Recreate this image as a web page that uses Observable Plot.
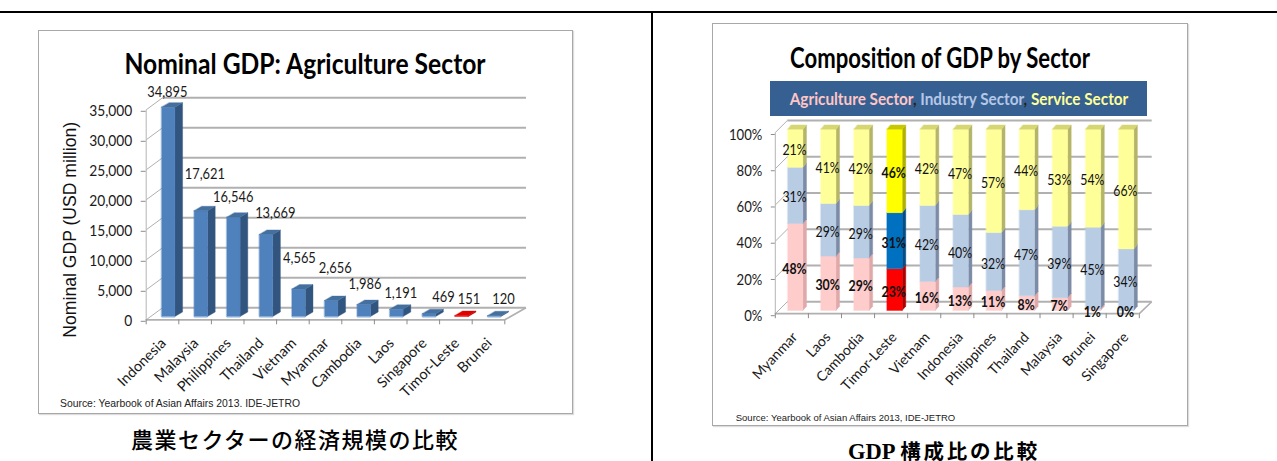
<!DOCTYPE html>
<html lang="ja">
<head>
<meta charset="utf-8">
<script src="https://cdn.jsdelivr.net/npm/d3@7"></script>
<script src="https://cdn.jsdelivr.net/npm/@observablehq/plot@0.6"></script>
<style>
  html, body { margin: 0; padding: 0; background: #fff; }
  #page { position: relative; width: 1277px; height: 461px; overflow: hidden; }
  #page > * { position: absolute; }
  #page svg { overflow: visible; }
  .rule { background: #000; }
  .frame { box-sizing: border-box; border: 1.5px solid #a8a8a8; box-shadow: 1px 1px 1px #ddd; background: #fff; }
  .chart-title, .banner, .source, .caption { white-space: nowrap; transform: translateX(-50%); }
  .chart-title { font: 700 29px Lato, sans-serif; color: #000; }
  .banner-box { background: #376092; }
  .banner { font: 700 17px Lato, sans-serif; color: #222; transform: translateX(-50%) scaleX(.9); }
  .source { font-family: "Liberation Sans", sans-serif; color: #222; }
  .caption { color: #000; line-height: 1; }
</style>
</head>
<body>
<div id="page"></div>
<script>
// Nominal GDP of the agriculture sector, USD million
const gdpCountries = ["Indonesia", "Malaysia", "Philippines", "Thailand", "Vietnam", "Myanmar", "Cambodia", "Laos", "Singapore", "Timor-Leste", "Brunei"];
const gdpValues = [34895, 17621, 16546, 13669, 4565, 2656, 1986, 1191, 469, 151, 120];
const gdpTicks = [0, 5000, 10000, 15000, 20000, 25000, 30000, 35000];
// Callout placement relative to the top of each bar: columns sideways, USD million upwards
const gdpLabelShift = [0.15, 0.3, 0.17, 0.46, 0.2, 0.3, 0.21, 0.31, 0.62, 0.4, 0.46];
const gdpLabelLift = [3000, 6600, 3850, 4050, 5650, 5900, 3900, 3200, 3250, 3250, 3250];

// Share of GDP by sector, percent
const shareCountries = ["Myanmar", "Laos", "Cambodia", "Timor-Leste", "Vietnam", "Indonesia", "Philippines", "Thailand", "Malaysia", "Brunei", "Singapore"];
const agriculture = [48, 30, 29, 23, 16, 13, 11, 8, 7, 1, 0];
const industry = [31, 29, 29, 31, 42, 40, 32, 47, 39, 45, 34];
const service = [21, 41, 42, 46, 42, 47, 57, 44, 53, 54, 66];
const shareTicks = [0, 20, 40, 60, 80, 100];

// Numbers are set in a horizontally condensed cut of Lato.
const condensed = `Lato, "Noto Sans", sans-serif`;
const labelFont = "Lato, sans-serif";
const page = document.getElementById("page");

function addBox(cls, left, top, width, height) {
  const el = document.createElement("div");
  el.className = cls;
  Object.assign(el.style, {left: left + "px", top: top + "px", width: width + "px", height: height + "px"});
  page.append(el);
  return el;
}
function addText(cls, centre, top, html, extra = {}) {
  const el = document.createElement("div");
  el.className = cls;
  el.innerHTML = html;
  Object.assign(el.style, {left: centre + "px", top: top + "px"}, extra);
  page.append(el);
  return el;
}
// Narrows the glyphs of every text drawn in the condensed family; needs the SVG to be in the document.
function condense(svg, factor) {
  svg.querySelectorAll("text").forEach((t) => {
    const owner = t.closest("[font-family]");
    if (!owner || !owner.getAttribute("font-family").includes("Noto Sans")) return;
    t.setAttribute("textLength", t.getComputedTextLength() * factor);
    t.setAttribute("lengthAdjust", "spacingAndGlyphs");
  });
}

// A box in oblique projection: front, right side and top faces as closed outlines.
function boxFaces(id, left, width, y1, y2, depthX, depthY, colors, withTop) {
  const r = left + width;
  const faces = [
    {face: id + "s", fill: colors.side, pts: [[r, y1], [r + depthX, y1 + depthY], [r + depthX, y2 + depthY], [r, y2]]},
    {face: id + "f", fill: colors.front, pts: [[left, y1], [r, y1], [r, y2], [left, y2]]}
  ];
  if (withTop) faces.push({face: id + "t", fill: colors.top, pts: [[left, y2], [r, y2], [r + depthX, y2 + depthY], [left + depthX, y2 + depthY]]});
  return faces.flatMap(({face, fill, pts}) => pts.map(([x, y]) => ({face, fill, x, y})));
}
const faceMark = (rows) => Plot.line(rows, {x: "x", y: "y", z: "face", fill: "fill", stroke: "fill", strokeWidth: 0.4, curve: "linear-closed"});

// The open chart box behind the bars: back-wall grid, floor edges and side-wall diagonals.
function wallMarks(n, ticks, backX, backEnd, backY, gridColor) {
  return [
    Plot.link(ticks, {x1: backX, x2: backEnd, y1: (d) => d + backY, y2: (d) => d + backY, stroke: gridColor, strokeWidth: 2}),
    Plot.link(ticks, {x1: 0, x2: backX, y1: (d) => d, y2: (d) => d + backY, stroke: gridColor, strokeWidth: 1}),
    Plot.link([0], {x1: n, x2: backEnd, y1: 0, y2: backY, stroke: gridColor, strokeWidth: 1.6}),
    Plot.ruleY([0], {stroke: gridColor, strokeWidth: 1.8}),
    Plot.link([0], {x1: 0, x2: 0, y1: 0, y2: ticks[ticks.length - 1], stroke: "#b5b5b5", strokeWidth: 1})
  ];
}

// Page rules
addBox("rule", 0, 11, 1277, 2);
addBox("rule", 650.5, 11, 2, 450);

// ---------- Nominal GDP: Agriculture Sector ----------
addBox("frame", 37.5, 30, 535.5, 383.5);
addText("chart-title", 305, 45, "Nominal GDP: Agriculture Sector", {transform: "translateX(-50%) scaleX(.85)"});
{
  const blue = {front: "#4f81bd", side: "#31557f", top: "#44709f"};
  const red = {front: "#ff0000", side: "#b00000", top: "#e00000"};
  const rows = gdpCountries.flatMap((c, i) =>
    boxFaces(c, i + 0.47, 0.41, 550, gdpValues[i] + 550, 0.236, 750, c === "Timor-Leste" ? red : blue, true));
  const plot = Plot.plot({
    width: 640, height: 461,
    marginLeft: 145.7, marginRight: 135.7, marginTop: 109.3, marginBottom: 141.7,
    style: {background: "transparent", overflow: "visible"},
    x: {domain: [0, 11]},
    y: {domain: [0, 35000]},
    marks: [
      ...wallMarks(11, gdpTicks, 0.5, 11.65, 2000, "#b0b0b0"),
      Plot.axisY(gdpTicks, {tickFormat: d3.format(","), tickSize: 5, tickPadding: 9, label: null, stroke: "#8c8c8c", fill: "#1a1a1a", fontFamily: condensed, fontSize: 16, dy: 1.5}),
      Plot.axisX(d3.range(0, 12), {tickFormat: () => "", tickSize: 5, label: null, stroke: "#8c8c8c"}),
      Plot.axisX(d3.range(0, 11).map((i) => i + 0.53), {
        tickFormat: (d) => gdpCountries[Math.floor(d)], tickSize: 0, tickPadding: 21, tickRotate: -45, label: null,
        fontFamily: labelFont, fontSize: 14.5, fill: "#1a1a1a"
      }),
      faceMark(rows),
      Plot.link(gdpCountries.filter((c) => c !== "Timor-Leste"), {
        x1: (c) => gdpCountries.indexOf(c) + 0.47, x2: (c) => gdpCountries.indexOf(c) + 0.88, y1: 480, y2: 480,
        stroke: "#8db2dd", strokeWidth: 1.2
      }),
      Plot.text(gdpValues, {
        x: (d, i) => i + 0.5 + gdpLabelShift[i], y: (d, i) => d + gdpLabelLift[i],
        text: d3.format(","), fontFamily: condensed, fontSize: 15, fill: "#1a1a1a"
      }),
      Plot.text(["Nominal GDP (USD million)"], {frameAnchor: "left", textAnchor: "middle", dx: -76, dy: 15, rotate: -90, fontFamily: "Liberation Sans, sans-serif", fontSize: 17.6, fill: "#111"})
    ]
  });
  plot.style.left = "0px";
  plot.style.top = "0px";
  page.append(plot);
  condense(plot, 0.86);
}
addText("source", 180, 397.5, "Source: Yearbook of Asian Affairs 2013. IDE-JETRO", {fontSize: "10.4px"});
addText("caption", 295, 427, "農業セクターの経済規模の比較", {font: `500 22px "Noto Sans CJK JP", sans-serif`, letterSpacing: "1.5px", lineHeight: "1"});

// ---------- Composition of GDP by Sector ----------
addBox("frame", 712, 22.5, 476, 403);
addText("chart-title", 940, 39, "Composition of GDP by Sector", {transform: "translateX(-50%) scaleX(.762)"});
addBox("banner-box", 770, 81, 377, 35);
addText("banner", 958.5, 87.5,
  `<span style="color:#ffc6c6">Agriculture Sector</span>, <span style="color:#b4c7e7">Industry Sector</span>, <span style="color:#ffff99">Service Sector</span>`);
{
  const palette = {
    agriculture: {front: "#ffcccc", side: "#e0a9a9", top: "#f0bcbc"},
    industry: {front: "#b8cce4", side: "#7d8ca6", top: "#9fb2cc"},
    service: {front: "#ffff99", side: "#b5b56a", top: "#d6d672"}
  };
  const strong = {
    agriculture: {front: "#ff0000", side: "#b00000", top: "#d00000"},
    industry: {front: "#0070c0", side: "#004f88", top: "#005c9e"},
    service: {front: "#ffff00", side: "#b0b000", top: "#c8c800"}
  };
  const sectors = [["agriculture", agriculture], ["industry", industry], ["service", service]];
  const faces = [];
  const labels = [];
  shareCountries.forEach((c, i) => {
    // Rounded shares may not add up to 100, so each column is scaled to its own total.
    const total = d3.sum(sectors, ([, v]) => v[i]);
    let acc = 0;
    sectors.forEach(([name, v], s) => {
      const y1 = acc / total * 100;
      acc += v[i];
      const y2 = acc / total * 100;
      const colors = (c === "Timor-Leste" ? strong : palette)[name];
      if (y2 > y1) faces.push(...boxFaces(c + name, i + 0.375, 0.459, y1 + 1.77, y2 + 1.77, 0.109, 2.4, colors, s === 2));
      labels.push({i, mid: (y1 + y2) / 2, value: v[i], bold: s === 0 || c === "Timor-Leste"});
    });
  });
  const shareLabel = (rows, weight) => Plot.text(rows, {
    x: (d) => d.i + 0.58, y: (d) => d.mid + 0.6, text: (d) => d.value + "%",
    fontFamily: condensed, fontSize: 15, fontWeight: weight, fill: "#111"
  });
  const plot = Plot.plot({
    width: 625, height: 461,
    marginLeft: 122.8, marginRight: 138.2, marginTop: 132, marginBottom: 147.8,
    style: {background: "transparent", overflow: "visible"},
    x: {domain: [0, 11]},
    y: {domain: [0, 100]},
    marks: [
      ...wallMarks(11, shareTicks, 0.363, 11.375, 6.6, "#b0b0b0"),
      Plot.axisY(shareTicks, {tickFormat: (d) => d + "%", tickSize: 4, tickPadding: 9, label: null, stroke: "#8c8c8c", fill: "#1a1a1a", fontFamily: condensed, fontSize: 16, dy: 2}),
      Plot.axisX(d3.range(0, 12), {tickFormat: () => "", tickSize: 5, label: null, stroke: "#8c8c8c"}),
      Plot.axisX(d3.range(0, 11).map((i) => i + 0.595), {
        tickFormat: (d) => shareCountries[Math.floor(d)], tickSize: 0, tickPadding: 21, tickRotate: -47, label: null,
        fontFamily: labelFont, fontSize: 14, fill: "#1a1a1a"
      }),
      faceMark(faces),
      shareLabel(labels.filter((d) => !d.bold), 400),
      shareLabel(labels.filter((d) => d.bold), 700)
    ]
  });
  plot.style.left = "652px";
  plot.style.top = "0px";
  page.append(plot);
  condense(plot, 0.82);
}
addText("source", 845.5, 411.5, "Source: Yearbook of Asian Affairs 2013, IDE-JETRO", {fontSize: "9.5px"});
addText("caption", 944, 439,
  `<span style="font:700 22.5px 'Liberation Serif',serif">GDP</span> <span style="letter-spacing:2.8px">構成比の比較</span>`,
  {font: `700 20.5px "Noto Sans CJK JP", sans-serif`, lineHeight: "1"});
</script>
</body>
</html>
